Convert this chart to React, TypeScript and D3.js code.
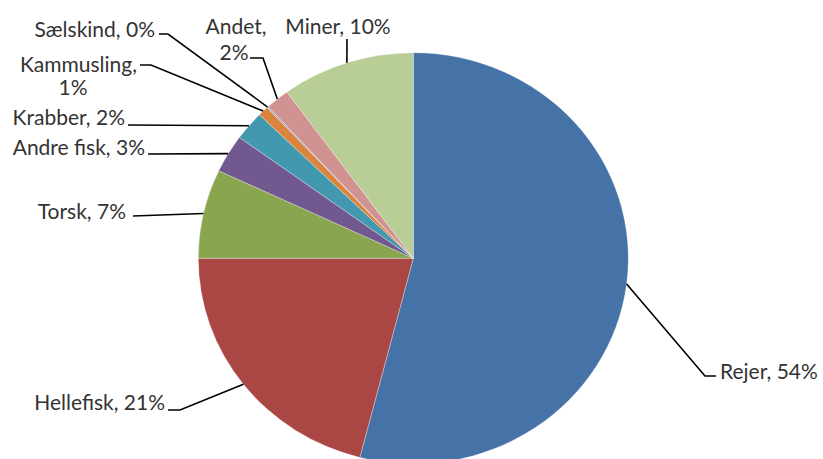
import React from "react";
import * as d3 from "d3";

const categories = ["Rejer", "Hellefisk", "Torsk", "Andre fisk", "Krabber", "Kammusling", "Sælskind", "Andet", "Miner"];
const values = [54.0, 21.0, 7.0, 3.0, 2.3, 0.8, 0.1, 1.8, 10.0];
const percentLabels = ["54%", "21%", "7%", "3%", "2%", "1%", "0%", "2%", "10%"];
const colors = ["#4572A7", "#AA4643", "#89A54E", "#71588F", "#4198AF", "#DB843D", "#93A9CF", "#D19392", "#B9CD96"];

// label layout: text lines with anchor position, and leader-line elbow points
type LabelLayout = { lines: { text: string; x: number; y: number; anchor: string }[]; elbow: [number, number][] };
const labelLayout: LabelLayout[] = [
  { lines: [{ text: "Rejer, 54%", x: 720, y: 379, anchor: "start" }], elbow: [[716, 376], [705, 376]] },
  { lines: [{ text: "Hellefisk, 21%", x: 165, y: 410, anchor: "end" }], elbow: [[168, 410], [180, 410]] },
  { lines: [{ text: "Torsk, 7%", x: 126, y: 219, anchor: "end" }], elbow: [[133, 216]] },
  { lines: [{ text: "Andre fisk, 3%", x: 145, y: 155, anchor: "end" }], elbow: [[148, 154]] },
  { lines: [{ text: "Krabber, 2%", x: 125, y: 125, anchor: "end" }], elbow: [[128, 125]] },
  {
    lines: [
      { text: "Kammusling,", x: 137, y: 72, anchor: "end" },
      { text: "1%", x: 73, y: 95, anchor: "middle" },
    ],
    elbow: [[140, 65], [151, 65]],
  },
  { lines: [{ text: "Sælskind, 0%", x: 155, y: 37, anchor: "end" }], elbow: [[159, 34], [168, 34]] },
  {
    lines: [
      { text: "Andet,", x: 236, y: 34, anchor: "middle" },
      { text: "2%", x: 234, y: 60, anchor: "middle" },
    ],
    elbow: [[250, 58], [263, 58]],
  },
  { lines: [{ text: "Miner, 10%", x: 338, y: 34, anchor: "middle" }], elbow: [[347, 39]] },
];

const W = 823;
const H = 459;
const cx = 413.3;
const cy = 258.3;
const ry = 205.6;
const rx = 215;
const sx = rx / ry;

export default function App() {
  const data = categories.map((c, i) => ({ name: c, value: values[i], pct: percentLabels[i], color: colors[i] }));
  const pie = d3.pie<any>().value((d) => d.value).sort(null);
  const arcs = pie(data);
  const arc = d3.arc<any>().innerRadius(0).outerRadius(ry);

  return (
    <svg
      width={W}
      height={H}
      style={{ position: "absolute", left: 0, top: 0, background: "#fff" }}
      fontFamily="Lato, 'Open Sans', sans-serif"
    >
      <g transform={`translate(${cx},${cy}) scale(${sx},1)`}>
        {arcs.map((a, i) => (
          <path key={i} d={arc(a) || ""} fill={a.data.color} stroke="#fff" strokeWidth={0.3} />
        ))}
      </g>
      {arcs.map((a, i) => {
        const mid = (a.startAngle + a.endAngle) / 2;
        const ax = cx + Math.sin(mid) * ry * sx;
        const ay = cy - Math.cos(mid) * ry;
        const lay = labelLayout[i];
        const pts: [number, number][] = [...lay.elbow, [ax, ay]];
        const line = d3.line()(pts) || "";
        return (
          <g key={"l" + i}>
            <path d={line} fill="none" stroke="#000" strokeWidth={1.6} />
            {lay.lines.map((t, j) => (
              <text key={j} x={t.x} y={t.y} textAnchor={t.anchor} fontSize={21} fill="#333">
                {t.text}
              </text>
            ))}
          </g>
        );
      })}
    </svg>
  );
}
